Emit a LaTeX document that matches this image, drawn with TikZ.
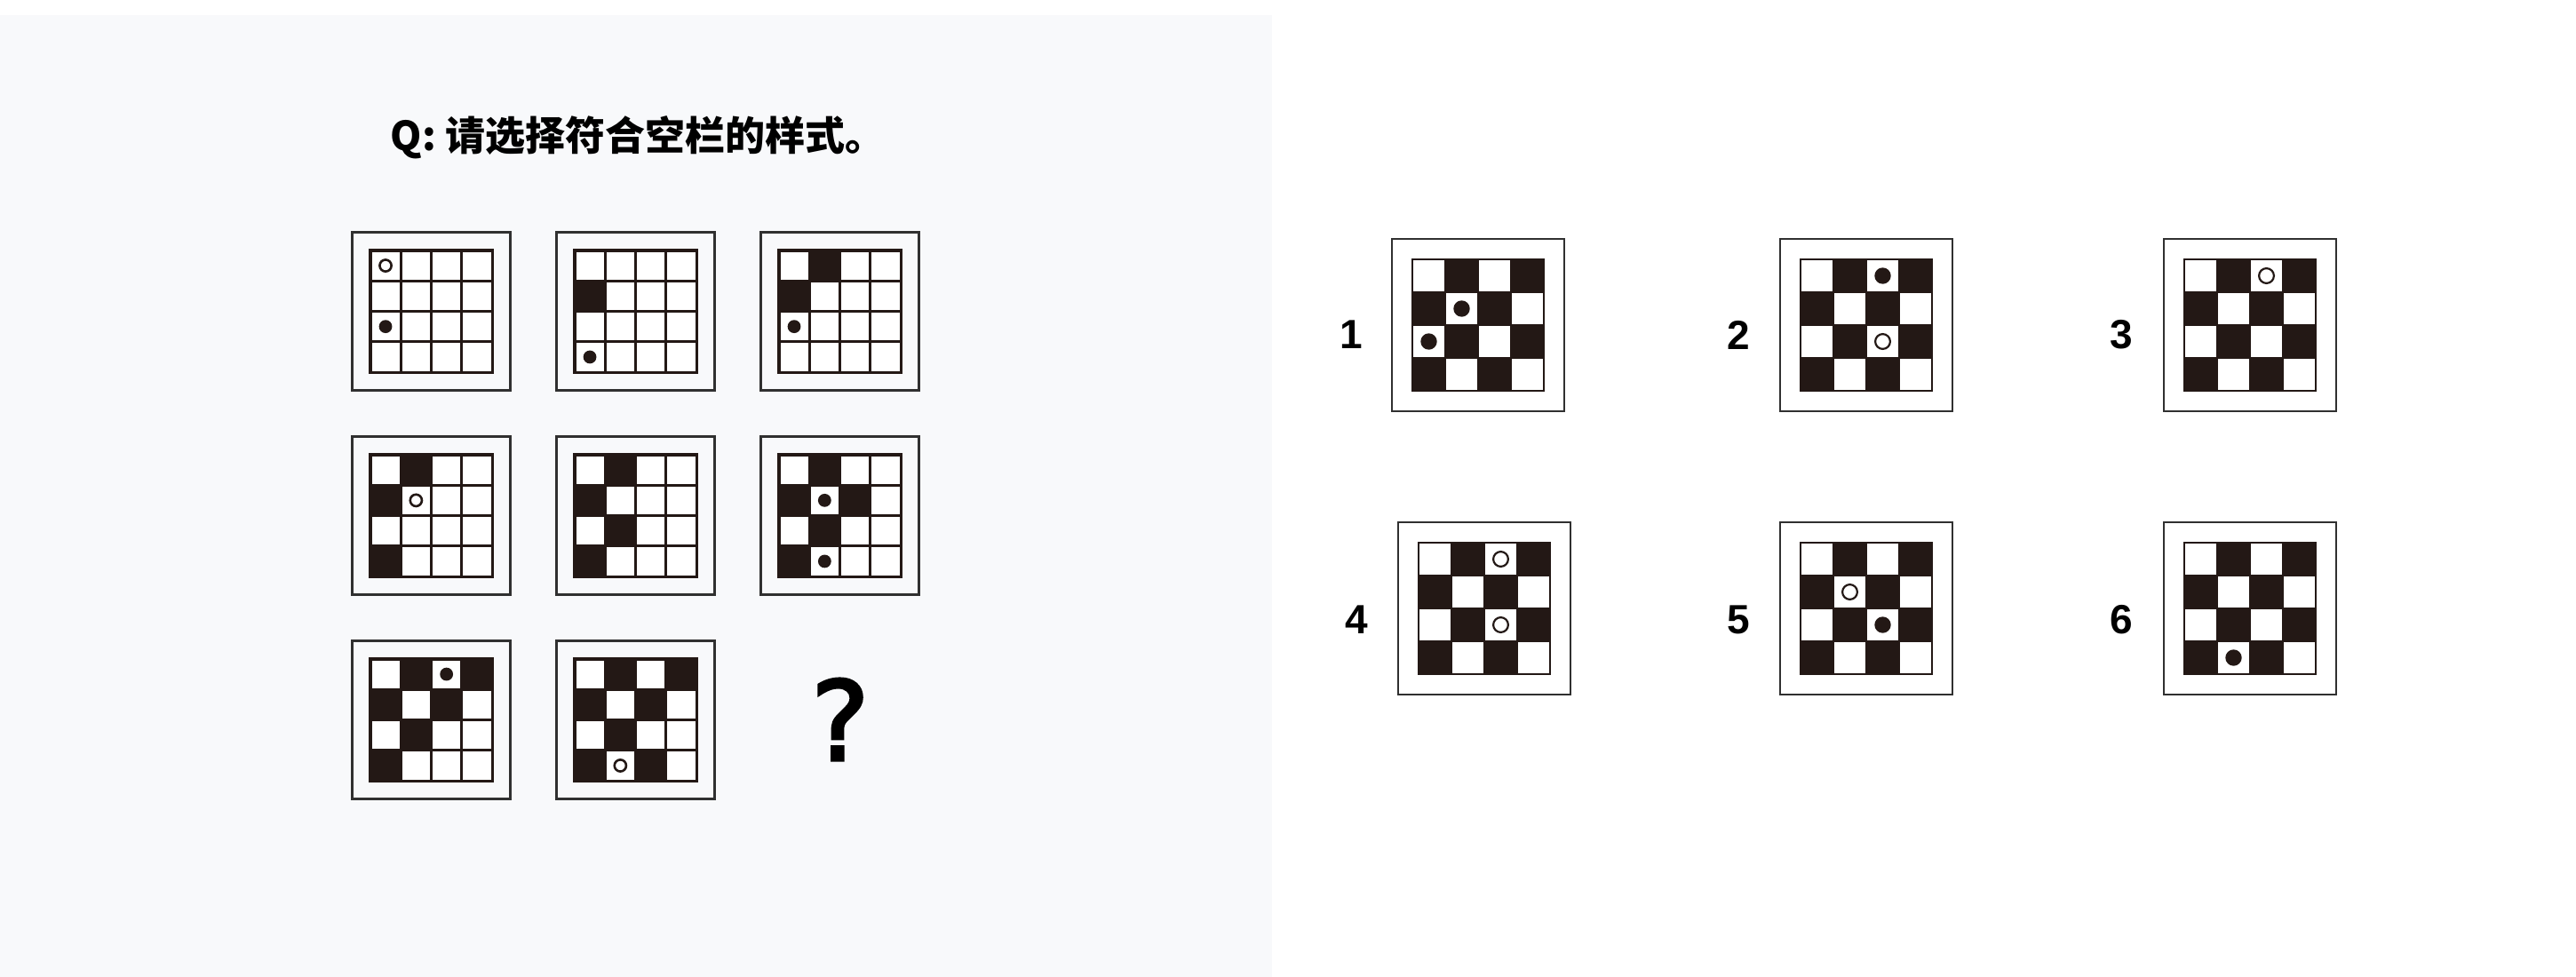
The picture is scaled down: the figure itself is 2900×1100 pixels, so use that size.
\documentclass[tikz,border=0pt]{standalone}
\usepackage{fontspec}
\setmainfont{Liberation Sans}
\newfontfamily\cjkfont{Noto Sans CJK SC}
\newfontfamily\qfont{DejaVu Sans}[FakeBold=2.5]
\newfontfamily\labfont{Liberation Sans}
\definecolor{ink}{HTML}{231815}
\definecolor{panelbg}{HTML}{F8F9FB}
\definecolor{framecol}{HTML}{303030}
\tikzset{
  frame/.style={draw=framecol, line width=2.6pt, minimum size=#1, inner sep=0pt, shape=rectangle},
  titletext/.style={font=\cjkfont\bfseries\fontsize{45pt}{52pt}\selectfont, text=black, inner sep=0pt},
  lab/.style={font=\labfont\bfseries\fontsize{46pt}{50pt}\selectfont, text=black, inner sep=0pt},
  qm/.style={font=\qfont\fontsize{124pt}{128pt}\selectfont, text=black, inner sep=0pt}
}
% #1 name, #2 cx, #3 cy, #4 frame size, #5 cell, #6 cell inset, #7 outer border
\newcommand\board[7]{%
  \node[frame=#4pt] (#1) at (#2,#3) {};
  \fill[ink] ({#2-2*#5-#7},{#3-2*#5-#7}) rectangle ({#2+2*#5+#7},{#3+2*#5+#7});
  \foreach \rr in {1,...,4}{\foreach \cc in {1,...,4}{%
    \fill[white] ({#2+(\cc-3)*#5+#6},{#3+(\rr-3)*#5+#6}) rectangle ({#2+(\cc-2)*#5-#6},{#3+(\rr-2)*#5-#6});}}%
}
% #1 cx, #2 cy, #3 cell, #4 list
\newcommand\blacks[4]{%
  \foreach \rr/\cc in {#4}{\fill[ink] ({#1+(\cc-3)*#3},{#2+(\rr-3)*#3}) rectangle ({#1+(\cc-2)*#3},{#2+(\rr-2)*#3});}%
}
% #1 cx, #2 cy, #3 cell, #4 radius, #5 list
\newcommand\dotsat[5]{%
  \foreach \rr/\cc in {#5}{\fill[ink] ({#1+(\cc-2.5)*#3},{#2+(\rr-2.5)*#3}) circle (#4pt);}%
}
% #1 cx, #2 cy, #3 cell, #4 radius, #5 line width, #6 list
\newcommand\ringsat[6]{%
  \foreach \rr/\cc in {#6}{\draw[ink, line width=#5pt] ({#1+(\cc-2.5)*#3},{#2+(\rr-2.5)*#3}) circle (#4pt);}%
}
\begin{document}
\begin{tikzpicture}[x=1pt,y=-1pt]
\useasboundingbox (0,0) rectangle (2900,1100);
\fill[white] (0,0) rectangle (2900,1100);
\fill[panelbg] (0,17) rectangle (1432,1100);
\node[titletext, anchor=base] (title) at (718,169) {Q: 请选择符合空栏的样式。};
% ---- puzzle boards ----
\board{p1}{485.5}{350.5}{178}{34.3}{1.6}{1.5}
\dotsat{485.5}{350.5}{34.3}{7.4}{3/1}
\ringsat{485.5}{350.5}{34.3}{6.6}{2.6}{1/1}
\board{p2}{715.5}{350.5}{178}{34.3}{1.6}{1.5}
\blacks{715.5}{350.5}{34.3}{2/1}
\dotsat{715.5}{350.5}{34.3}{7.4}{4/1}
\board{p3}{945.5}{350.5}{178}{34.3}{1.6}{1.5}
\blacks{945.5}{350.5}{34.3}{1/2,2/1}
\dotsat{945.5}{350.5}{34.3}{7.4}{3/1}
\board{p4}{485.5}{580.5}{178}{34.3}{1.6}{1.5}
\blacks{485.5}{580.5}{34.3}{1/2,2/1,4/1}
\ringsat{485.5}{580.5}{34.3}{6.6}{2.6}{2/2}
\board{p5}{715.5}{580.5}{178}{34.3}{1.6}{1.5}
\blacks{715.5}{580.5}{34.3}{1/2,2/1,3/2,4/1}
\board{p6}{945.5}{580.5}{178}{34.3}{1.6}{1.5}
\blacks{945.5}{580.5}{34.3}{1/2,2/1,2/3,3/2,4/1}
\dotsat{945.5}{580.5}{34.3}{7.4}{2/2,4/2}
\board{p7}{485.5}{810.5}{178}{34.3}{1.6}{1.5}
\blacks{485.5}{810.5}{34.3}{1/2,1/4,2/1,2/3,3/2,4/1}
\dotsat{485.5}{810.5}{34.3}{7.4}{1/3}
\board{p8}{715.5}{810.5}{178}{34.3}{1.6}{1.5}
\blacks{715.5}{810.5}{34.3}{1/2,1/4,2/1,2/3,3/2,4/1,4/3}
\ringsat{715.5}{810.5}{34.3}{6.6}{2.6}{4/2}
\node[qm] (qmark) at (946,810) {?};
% ---- options ----
\board{o1}{1664}{366}{194}{37}{1.2}{0.8}
\blacks{1664}{366}{37}{1/2,1/4,2/1,2/3,3/2,3/4,4/1,4/3}
\dotsat{1664}{366}{37}{9.2}{2/2,3/1}
\node[lab] (l1) at (1521,377) {1};
\board{o2}{2101}{366}{194}{37}{1.2}{0.8}
\blacks{2101}{366}{37}{1/2,1/4,2/1,2/3,3/2,3/4,4/1,4/3}
\dotsat{2101}{366}{37}{9.2}{1/3}
\ringsat{2101}{366}{37}{8.4}{2.2}{3/3}
\node[lab] (l2) at (1957,377) {2};
\board{o3}{2533}{366}{194}{37}{1.2}{0.8}
\blacks{2533}{366}{37}{1/2,1/4,2/1,2/3,3/2,3/4,4/1,4/3}
\ringsat{2533}{366}{37}{8.4}{2.2}{1/3}
\node[lab] (l3) at (2388,377) {3};
\board{o4}{1671}{685}{194}{37}{1.2}{0.8}
\blacks{1671}{685}{37}{1/2,1/4,2/1,2/3,3/2,3/4,4/1,4/3}
\ringsat{1671}{685}{37}{8.4}{2.2}{1/3,3/3}
\node[lab] (l4) at (1527,698) {4};
\board{o5}{2101}{685}{194}{37}{1.2}{0.8}
\blacks{2101}{685}{37}{1/2,1/4,2/1,2/3,3/2,3/4,4/1,4/3}
\ringsat{2101}{685}{37}{8.4}{2.2}{2/2}
\dotsat{2101}{685}{37}{9.2}{3/3}
\node[lab] (l5) at (1957,698) {5};
\board{o6}{2533}{685}{194}{37}{1.2}{0.8}
\blacks{2533}{685}{37}{1/2,1/4,2/1,2/3,3/2,3/4,4/1,4/3}
\dotsat{2533}{685}{37}{9.2}{4/2}
\node[lab] (l6) at (2388,698) {6};
\end{tikzpicture}
\end{document}
